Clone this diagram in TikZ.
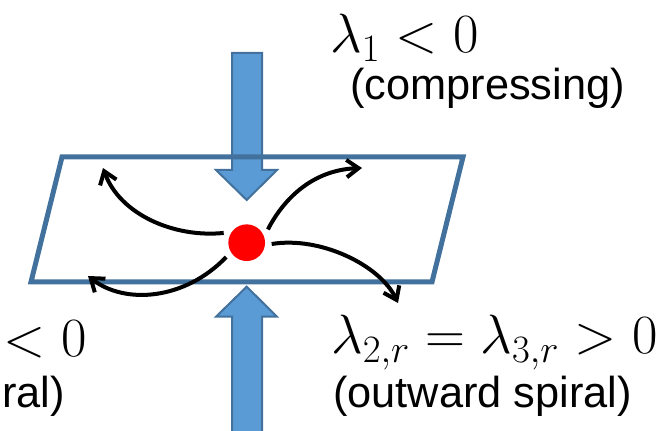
\documentclass[tikz,border=0pt]{standalone}
\usepackage{fix-cm}
\usepackage{fontspec}
\newfontfamily\labelfont{Liberation Sans}
\usetikzlibrary{arrows.meta}
\definecolor{planeblue}{RGB}{65,113,156}
\definecolor{arrowfill}{RGB}{91,155,213}
\definecolor{arrowedge}{RGB}{65,113,156}

\begin{document}
\begin{tikzpicture}[
    x=0.75pt, y=-0.75pt,
    blockarrow/.style={draw=arrowedge, fill=arrowfill, line width=1.5pt, line join=miter},
    plane/.style={draw=planeblue, line width=3.75pt, line join=miter},
    flow/.style={->, line width=3pt},
    mathlabel/.style={inner sep=0pt, font=\fontsize{41.5}{46}\selectfont},
    textlabel/.style={inner sep=0pt, font=\labelfont\fontsize{32.5}{38}\selectfont},
    >={Straight Barb[length=9pt,width=13pt]}
  ]
    \path[use as bounding box, clip] (0,0) rectangle (658,431);
    \draw[blockarrow] (232,53) -- (262,53) -- (262,170) -- (277,170) -- (246.7,200) -- (216,170) -- (232,170) -- cycle;
    \draw[blockarrow] (232,440) -- (232,316.7) -- (216,316.7) -- (246.7,286.7) -- (277,316.7) -- (262,316.7) -- (262,440) -- cycle;
    \draw[plane] (62,157) -- (463,157) -- (432,282) -- (31,282) -- cycle;
    \node[circle, fill=red, minimum size=27.5pt, inner sep=0pt, outer sep=5pt] (dot) at (246.7,242.7) {};
    \coordinate (tipUL) at (103,168);
    \coordinate (tipLL) at (88,276);
    \coordinate (tipUR) at (362,168);
    \coordinate (tipLR) at (398,303);
    \draw[flow] (dot.157) .. controls (175,238) and (120,215) .. (tipUL);
    \draw[flow] (dot.215) .. controls (185,300) and (125,305) .. (tipLL);
    \draw[flow] (dot.32) .. controls (282,202) and (310,170) .. (tipUR);
    \draw[flow] (dot.-3) .. controls (320,236) and (380,265) .. (tipLR);
    \node[mathlabel, anchor=base west] (compLbl) at (330,53) {$\lambda_1 < 0$};
    \node[textlabel, anchor=base west] (compTxt) at (350,100) {(compressing)};
    \node[mathlabel, anchor=base east] (inLbl) at (87,357) {${}<0$};
    \node[textlabel, anchor=base east] (inTxt) at (65,407) {ral)};
    \node[mathlabel, anchor=base west] (outLbl) at (331,354) {$\lambda_{2,r} = \lambda_{3,r} > 0$};
    \node[textlabel, anchor=base west] (outTxt) at (333,407) {(outward spiral)};
\end{tikzpicture}
\end{document}
